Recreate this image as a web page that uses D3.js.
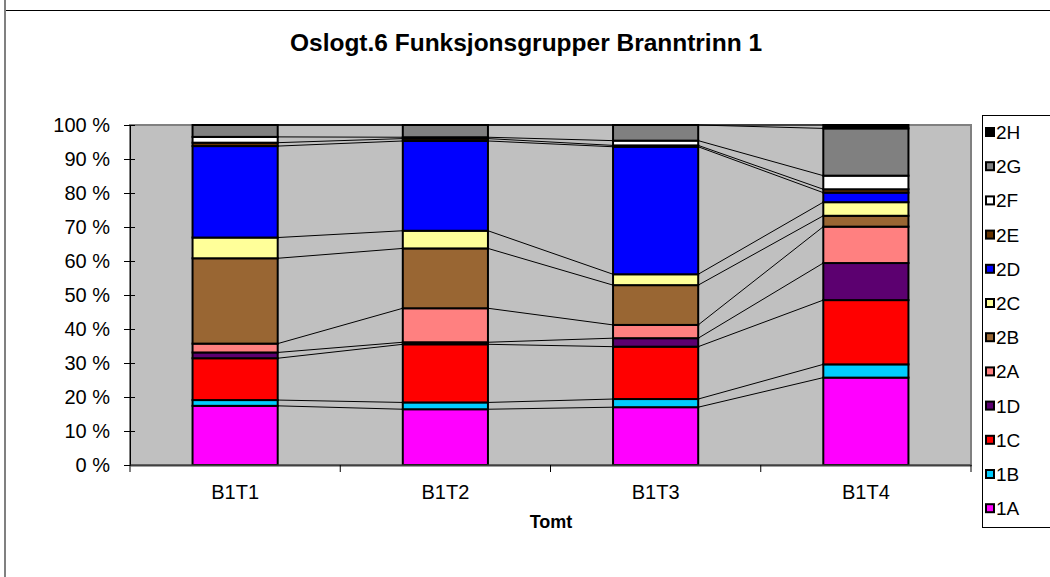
<!DOCTYPE html>
<html>
<head>
<meta charset="utf-8">
<script src="https://cdn.jsdelivr.net/npm/d3@7/dist/d3.min.js"></script>
<style>
  html, body { margin: 0; padding: 0; background: #fff; }
  svg { display: block; font-family: "Liberation Sans", Arial, sans-serif; }
</style>
</head>
<body>
<svg id="chart" width="1050" height="577"></svg>
<script>
// Plots (Tomt) along the x axis
const categories = ["B1T1", "B1T2", "B1T3", "B1T4"];

// Function groups, stacked from the bottom up
const groups = ["1A", "1B", "1C", "1D", "2A", "2B", "2C", "2D", "2E", "2F", "2G", "2H"];
const groupColors = ["#ff00ff", "#00ccff", "#ff0000", "#5c0070", "#ff8080", "#996633",
                     "#ffff99", "#0000ff", "#663300", "#ffffff", "#808080", "#000000"];

// Share of each function group per plot, in percent
const v1A = [17.4, 16.4, 17.0, 25.7];
const v1B = [1.7, 2.0, 2.4, 3.9];
const v1C = [12.3, 17.1, 15.4, 18.9];
const v1D = [1.7, 0.6, 2.5, 10.9];
const v2A = [2.6, 10.0, 3.9, 10.7];
const v2B = [25.1, 17.6, 11.7, 3.2];
const v2C = [6.1, 5.2, 3.2, 4.0];
const v2D = [26.9, 26.4, 37.5, 2.8];
const v2E = [1.0, 0.7, 0.4, 1.0];
const v2F = [1.7, 0.4, 1.4, 4.0];
const v2G = [3.5, 3.6, 4.6, 13.9];
const v2H = [0.0, 0.0, 0.0, 1.0];

const yTicks = [0, 0.1, 0.2, 0.3, 0.4, 0.5, 0.6, 0.7, 0.8, 0.9, 1.0];
const chartTitle = "Oslogt.6 Funksjonsgrupper Branntrinn 1";
const xTitle = "Tomt";

const seriesValues = [v1A, v1B, v1C, v1D, v2A, v2B, v2C, v2D, v2E, v2F, v2G, v2H];
const rows = categories.map((c, i) => {
  const r = { cat: c };
  groups.forEach((g, k) => { r[g] = seriesValues[k][i]; });
  return r;
});

const stacked = d3.stack().keys(groups).offset(d3.stackOffsetExpand)(rows);

const svg = d3.select("#chart");
const plot = { left: 130, right: 971, top: 125, bottom: 465 };
const FONT = "Liberation Sans, Arial, sans-serif";

// Sheet frame lines
svg.append("line").attr("x1", 5).attr("x2", 5).attr("y1", 0).attr("y2", 577)
  .attr("stroke", "#808080").attr("stroke-width", 2);
svg.append("line").attr("x1", 6).attr("x2", 1050).attr("y1", 10.5).attr("y2", 10.5)
  .attr("stroke", "#000").attr("stroke-width", 1);

const x = d3.scaleBand().domain(categories)
  .range([plot.left, plot.right]).paddingInner(0.595).paddingOuter(0.2975);
const y = d3.scaleLinear().domain([0, 1]).range([plot.bottom, plot.top]);
const color = d3.scaleOrdinal().domain(groups).range(groupColors);

// Plot area
svg.append("rect")
  .attr("x", plot.left).attr("y", plot.top)
  .attr("width", plot.right - plot.left).attr("height", plot.bottom - plot.top)
  .attr("fill", "#c0c0c0").attr("stroke", "#808080").attr("stroke-width", 2);

// Title
svg.append("text").attr("x", 526).attr("y", 51).attr("text-anchor", "middle")
  .attr("font-size", 24).attr("font-weight", "bold").attr("font-family", FONT)
  .attr("textLength", 472).attr("lengthAdjust", "spacingAndGlyphs")
  .text(chartTitle);

// Series lines joining the top of each segment between neighbouring bars
const lineG = svg.append("g");
stacked.forEach(s => {
  for (let j = 0; j < categories.length - 1; j++) {
    lineG.append("line")
      .attr("x1", x(categories[j]) + x.bandwidth()).attr("y1", y(s[j][1]))
      .attr("x2", x(categories[j + 1])).attr("y2", y(s[j + 1][1]))
      .attr("stroke", "#000").attr("stroke-width", 1);
  }
});

// Stacked bars
svg.append("g").selectAll("g").data(stacked).join("g")
  .attr("fill", d => color(d.key))
  .selectAll("rect").data(d => d).join("rect")
  .attr("x", d => x(d.data.cat))
  .attr("y", d => y(d[1]))
  .attr("width", x.bandwidth())
  .attr("height", d => y(d[0]) - y(d[1]))
  .attr("stroke", "#000").attr("stroke-width", 2);

// Y axis
const yAxis = d3.axisLeft(y).tickValues(yTicks)
  .tickFormat(d => Math.round(d * 100) + " %").tickSize(6).tickPadding(14);
const yG = svg.append("g").attr("transform", `translate(${plot.left},0)`).call(yAxis);
yG.attr("font-size", null).attr("font-family", null);
yG.select(".domain").attr("stroke", "#000");
yG.selectAll(".tick line").attr("x1", -6).attr("x2", 5).attr("stroke", "#000");
yG.selectAll(".tick text").attr("font-size", 20).attr("fill", "#000")
  .attr("font-family", FONT);

// X axis with ticks on category boundaries
const xAxis = d3.axisBottom(x).tickSize(0).tickPadding(20);
const xG = svg.append("g").attr("transform", `translate(0,${plot.bottom})`).call(xAxis);
xG.attr("font-size", null).attr("font-family", null);
xG.select(".domain").attr("stroke", "#404040").attr("stroke-width", 2);
xG.selectAll(".tick text").attr("font-size", 20).attr("fill", "#000")
  .attr("font-family", FONT);
xG.selectAll(".bound").data(d3.range(categories.length + 1)).join("line")
  .attr("class", "bound")
  .attr("x1", i => plot.left + i * (plot.right - plot.left) / categories.length)
  .attr("x2", i => plot.left + i * (plot.right - plot.left) / categories.length)
  .attr("y1", 0).attr("y2", 7).attr("stroke", "#000");

svg.append("text").attr("x", 551).attr("y", 528).attr("text-anchor", "middle")
  .attr("font-size", 18).attr("font-weight", "bold").attr("font-family", FONT).text(xTitle);

// Legend, top entry first
const legend = svg.append("g");
legend.append("rect").attr("x", 982.5).attr("y", 115.5).attr("width", 80).attr("height", 412)
  .attr("fill", "#fff").attr("stroke", "#000");
const legendItems = groups.slice().reverse();
const li = legend.selectAll("g.item").data(legendItems).join("g")
  .attr("class", "item")
  .attr("transform", (d, i) => `translate(986,${132 + i * 34.2})`);
li.append("rect").attr("x", 0).attr("y", -4).attr("width", 8).attr("height", 8)
  .attr("fill", d => color(d)).attr("stroke", "#000").attr("stroke-width", 2);
li.append("text").attr("x", 10).attr("y", 7).attr("font-size", 19)
  .attr("font-family", FONT).text(d => d);
</script>
</body>
</html>
